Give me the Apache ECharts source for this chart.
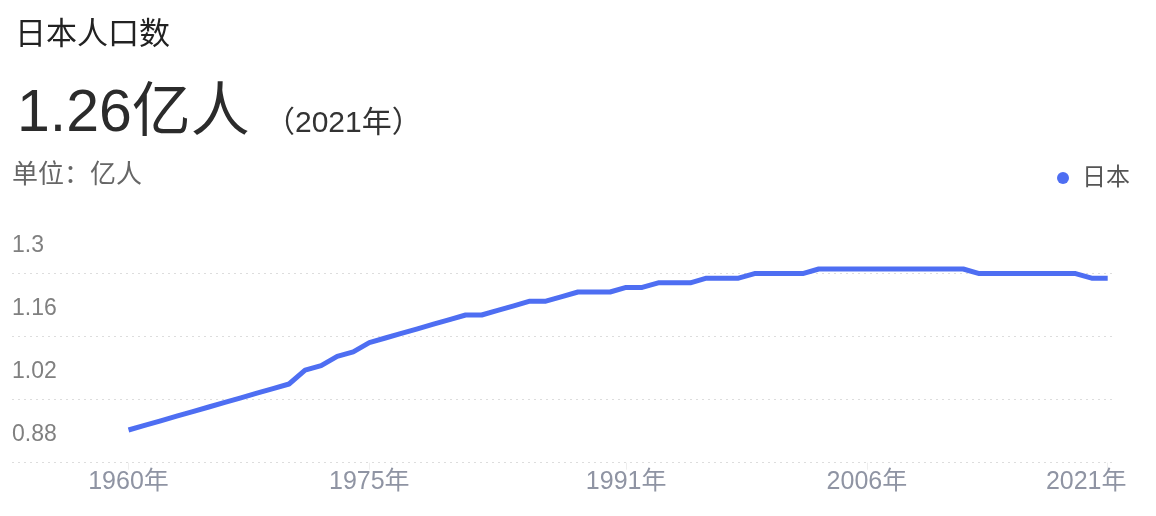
<!DOCTYPE html>
<html>
<head>
<meta charset="utf-8">
<style>
  html, body { margin: 0; padding: 0; background: #ffffff; }
  #chart { width: 1156px; height: 516px; }
</style>
<script src="https://cdn.jsdelivr.net/npm/echarts@6/dist/echarts.min.js"></script>
</head>
<body>
<div id="chart"></div>
<script>
// ---- data ----
const years = [
  1960, 1961, 1962, 1963, 1964, 1965, 1966, 1967, 1968, 1969,
  1970, 1971, 1972, 1973, 1974, 1975, 1976, 1977, 1978, 1979,
  1980, 1981, 1982, 1983, 1984, 1985, 1986, 1987, 1988, 1989,
  1990, 1991, 1992, 1993, 1994, 1995, 1996, 1997, 1998, 1999,
  2000, 2001, 2002, 2003, 2004, 2005, 2006, 2007, 2008, 2009,
  2010, 2011, 2012, 2013, 2014, 2015, 2016, 2017, 2018, 2019,
  2020, 2021
];
const population = [
  0.93, 0.94, 0.95, 0.96, 0.97, 0.98, 0.99, 1.00, 1.01, 1.02,
  1.03, 1.06, 1.07, 1.09, 1.10, 1.12, 1.13, 1.14, 1.15, 1.16,
  1.17, 1.18, 1.18, 1.19, 1.20, 1.21, 1.21, 1.22, 1.23, 1.23,
  1.23, 1.24, 1.24, 1.25, 1.25, 1.25, 1.26, 1.26, 1.26, 1.27,
  1.27, 1.27, 1.27, 1.28, 1.28, 1.28, 1.28, 1.28, 1.28, 1.28,
  1.28, 1.28, 1.28, 1.27, 1.27, 1.27, 1.27, 1.27, 1.27, 1.27,
  1.26, 1.26
];
const xTickYears = [1960, 1975, 1991, 2006, 2021];
const xTickLabels = ['1960年', '1975年', '1991年', '2006年', '2021年'];
const yTickValues = [0.88, 1.02, 1.16, 1.3];
const seriesName = '日本';
const titleText = '日本人口数';
const headlineValue = '1.26亿人';
const headlineYear = '（2021年）';
const unitText = '单位：亿人';

// ---- chart ----
const FONT = 'Liberation Sans, "Noto Sans CJK SC", sans-serif';
const chart = echarts.init(document.getElementById('chart'), null, { renderer: 'canvas' });

const seriesData = years.map((y, i) => [y, population[i]]);
const lastYear = xTickYears[xTickYears.length - 1];

const option = {
  animation: false,
  backgroundColor: '#ffffff',
  textStyle: { fontFamily: FONT },
  graphic: [
    { type: 'text', style: { x: 15, y: 35, text: titleText, fill: '#222222',
        font: '31px ' + FONT, textVerticalAlign: 'middle' } },
    { type: 'text', style: { x: 17, y: 115, text: headlineValue, fill: '#2b2b2b',
        font: '59px ' + FONT, textVerticalAlign: 'middle' } },
    { type: 'text', style: { x: 265, y: 124, text: headlineYear, fill: '#333333',
        font: '30px ' + FONT, textVerticalAlign: 'middle' } },
    { type: 'text', style: { x: 12, y: 176, text: unitText, fill: '#666666',
        font: '26px ' + FONT, textVerticalAlign: 'middle' } }
  ],
  legend: {
    data: [seriesName],
    right: 21,
    top: 161,
    icon: 'circle',
    itemWidth: 28,
    itemHeight: 12,
    textStyle: { fontSize: 24, color: '#555555', fontFamily: FONT }
  },
  grid: { left: 12, right: 44, top: 273.3, bottom: 516 - 462.7, containLabel: false },
  xAxis: {
    type: 'value',
    min: 1952.741,
    max: 2021.268,
    splitLine: { show: false },
    axisLine: { show: false },
    axisTick: { show: true, customValues: xTickYears, length: 7,
      lineStyle: { color: '#eeeeee', width: 1 } },
    axisLabel: {
      customValues: xTickYears,
      margin: 7,
      fontSize: 25,
      color: '#8f94a3',
      fontFamily: FONT,
      formatter: function (v) {
        const idx = xTickYears.indexOf(Math.round(v));
        const txt = idx >= 0 ? xTickLabels[idx] : '';
        return Math.round(v) === lastYear ? '{r|' + txt + '}' : txt;
      },
      rich: { r: { fontSize: 25, color: '#8f94a3', fontFamily: FONT, padding: [0, 43, 0, 0] } }
    }
  },
  yAxis: [
    {
      type: 'value',
      min: yTickValues[0],
      max: yTickValues[yTickValues.length - 1],
      interval: 0.14,
      position: 'left',
      axisLine: { show: false },
      axisTick: { show: false },
      splitLine: { show: true, lineStyle: { color: '#dddddd', width: 1, type: [2, 4] } },
      axisLabel: {
        inside: true,
        margin: 0,
        color: '#808080',
        fontFamily: FONT,
        fontSize: 23,
        formatter: function (v) { return '{v|' + v + '}'; },
        rich: { v: { fontSize: 23, color: '#808080', fontFamily: FONT, padding: [0, 0, 56, 0] } }
      }
    },
    {
      type: 'value',
      show: false,
      min: 0.85891,
      max: 1.27065,
      splitLine: { show: false }
    }
  ],
  series: [
    {
      name: seriesName,
      type: 'line',
      yAxisIndex: 1,
      data: seriesData,
      showSymbol: false,
      symbol: 'none',
      clip: false,
      color: '#4e6ef2',
      lineStyle: { color: '#4e6ef2', width: 5 },
      itemStyle: { color: '#4e6ef2' }
    }
  ]
};
chart.setOption(option);
</script>
</body>
</html>
